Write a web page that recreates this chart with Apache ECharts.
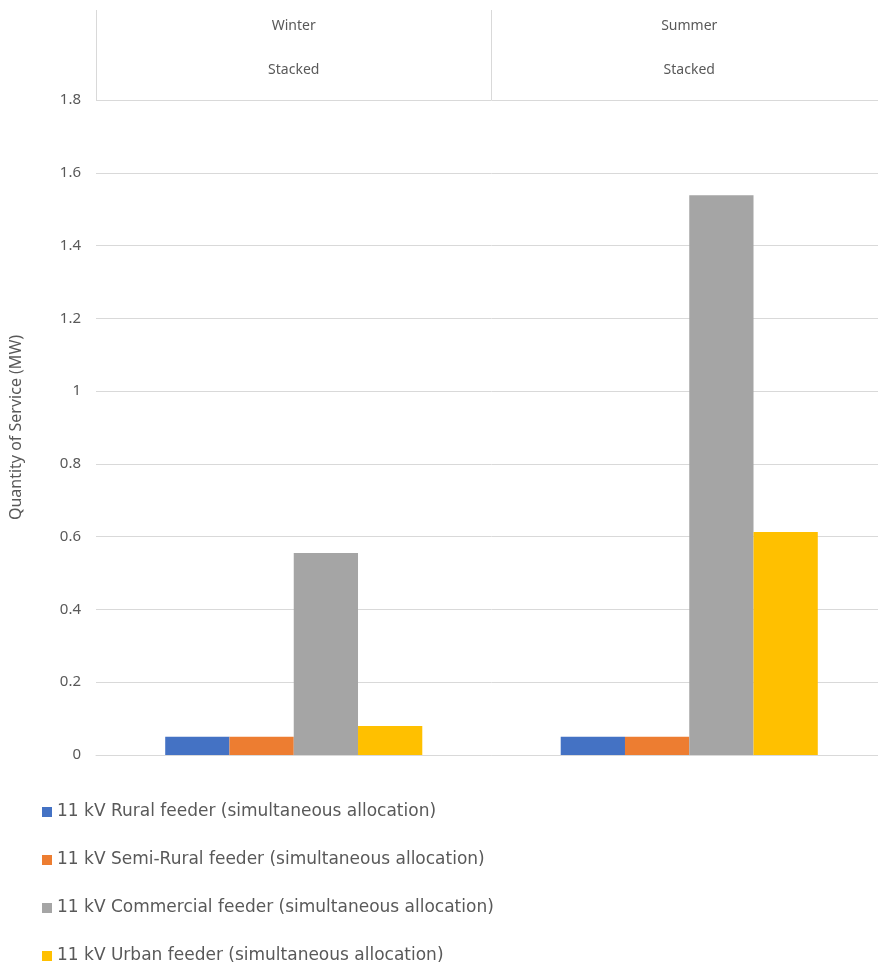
<!DOCTYPE html>
<html><head><meta charset="utf-8">
<script src="https://cdn.jsdelivr.net/npm/echarts@6/dist/echarts.min.js"></script>
<style>html,body{margin:0;padding:0;background:#fff;overflow:hidden}#c{width:890px;height:1000px}</style>
</head><body><div id="c"></div>
<script>
const categories = ['Winter', 'Summer'];
const subLabels = ['Stacked', 'Stacked'];
const seriesNames = [
  '11 kV Rural feeder (simultaneous allocation)',
  '11 kV Semi-Rural feeder (simultaneous allocation)',
  '11 kV Commercial feeder (simultaneous allocation)',
  '11 kV Urban feeder (simultaneous allocation)'
];
const rural = [0.05, 0.05];
const semiRural = [0.05, 0.05];
const commercial = [0.555, 1.538];
const urban = [0.08, 0.613];
const colors = ['#4472C4', '#ED7D31', '#A5A5A5', '#FFC000'];
const yTicks = { min: 0, max: 1.8, interval: 0.2 };

const values = [rural, semiRural, commercial, urban];
const font = 'Noto Sans, sans-serif';
const chart = echarts.init(document.getElementById('c'));
chart.setOption({
  animation: false,
  color: colors,
  grid: { left: 95, top: 100, right: 3, height: 655, containLabel: false },
  legend: {
    orient: 'vertical', left: 42, top: 802, padding: 0,
    itemWidth: 10, itemHeight: 10, itemGap: 28, icon: 'rect',
    textStyle: { fontFamily: 'DejaVu Sans, sans-serif', fontSize: 17, color: '#595959', lineHeight: 20 },
    data: seriesNames
  },
  xAxis: [{
    type: 'category', data: categories, position: 'bottom',
    axisLine: { lineStyle: { color: '#d9d9d9' } },
    axisTick: { show: false }, axisLabel: { show: false }
  }, {
    type: 'category', data: categories.map((c, i) => c + '\n' + subLabels[i]), position: 'top',
    axisLine: { show: false },
    axisTick: { show: true, length: 90, lineStyle: { color: '#d9d9d9' } },
    axisLabel: { fontFamily: font, fontSize: 14, color: '#595959', lineHeight: 44, margin: 8 }
  }],
  yAxis: {
    type: 'value', min: yTicks.min, max: yTicks.max, interval: yTicks.interval,
    name: 'Quantity of Service (MW)', nameLocation: 'middle', nameGap: 72,
    nameTextStyle: { fontFamily: font, fontSize: 16, color: '#595959' },
    axisLine: { show: false }, axisTick: { show: false },
    axisLabel: { fontFamily: font, fontSize: 15, color: '#595959', margin: 15,
      formatter: v => String(Math.round(v * 10) / 10) },
    splitLine: { lineStyle: { color: '#d9d9d9', width: 1 } }
  },
  series: seriesNames.map((n, i) => ({
    name: n, type: 'bar', data: values[i], xAxisIndex: 0,
    barGap: '0%', barCategoryGap: '35%'
  }))
});
</script></body></html>
